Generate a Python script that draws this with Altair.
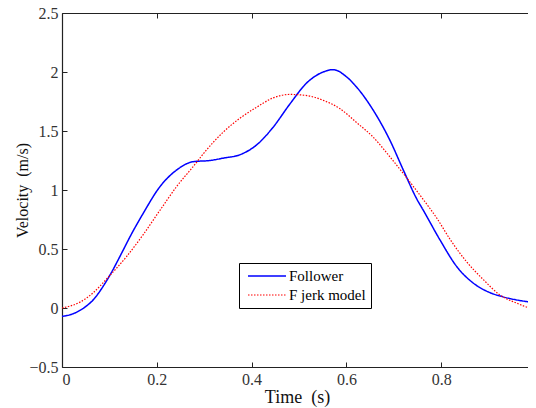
import altair as alt
import pandas as pd

# Follower (measured velocity)
follower_t = [0.000, 0.015, 0.038, 0.066, 0.097, 0.129, 0.143, 0.171, 0.207, 0.242, 0.277,
              0.312, 0.340, 0.376, 0.410, 0.445, 0.481, 0.517, 0.551, 0.572, 0.600, 0.622,
              0.656, 0.692, 0.720, 0.749, 0.762, 0.797, 0.833, 0.868, 0.903, 0.930, 0.987]
follower_v = [-0.07, -0.06, -0.02, 0.07, 0.25, 0.49, 0.60, 0.80, 1.03, 1.17, 1.24,
              1.25, 1.27, 1.30, 1.38, 1.53, 1.73, 1.91, 2.00, 2.02, 1.96, 1.87,
              1.68, 1.42, 1.17, 0.92, 0.83, 0.58, 0.35, 0.21, 0.13, 0.095, 0.05]

# F jerk model
model_t = [0.000, 0.038, 0.066, 0.095, 0.137, 0.171, 0.207, 0.242, 0.277, 0.305, 0.340,
           0.376, 0.410, 0.445, 0.481, 0.517, 0.551, 0.586, 0.622, 0.656, 0.692, 0.720,
           0.762, 0.791, 0.819, 0.854, 0.889, 0.924, 0.960, 0.987, 1.000]
model_v = [0.00, 0.05, 0.13, 0.25, 0.44, 0.62, 0.83, 1.03, 1.20, 1.34, 1.49,
           1.61, 1.70, 1.78, 1.81, 1.80, 1.76, 1.69, 1.57, 1.45, 1.28, 1.14,
           0.92, 0.76, 0.58, 0.39, 0.24, 0.11, 0.04, 0.00, -0.01]

series_names = ["Follower", "F jerk model"]
series_colors = ["#0000ff", "#ff0000"]
x_ticks = [0, 0.2, 0.4, 0.6, 0.8, 1]
y_ticks = [-0.5, 0, 0.5, 1, 1.5, 2, 2.5]

df = pd.concat([
    pd.DataFrame({"t": follower_t, "v": follower_v, "series": series_names[0], "order": range(len(follower_t))}),
    pd.DataFrame({"t": model_t, "v": model_v, "series": series_names[1], "order": range(len(model_t))}),
], ignore_index=True)

# The original plot area runs past the right edge of the picture (x = 1 sits on the edge);
# only the visible part (466 of 474 px) is drawn so the page does not overflow.
FULL_W = 474
W, H = 466, 354
FONT = "Liberation Serif, Times New Roman, Times, serif"
xs = alt.Scale(domain=[0, W / FULL_W], nice=False, zero=False)
ys = alt.Scale(domain=[-0.5, 2.5], nice=False, zero=False)

common = dict(labelFont=FONT, titleFont=FONT, domainColor="#222222", tickColor="#222222",
              grid=False)

base = alt.Chart(df)

main = base.mark_line(interpolate="monotone", clip=True).encode(
    x=alt.X("t:Q", scale=xs, axis=alt.Axis(
        orient="bottom", values=x_ticks, format="~g", ticks=False, tickSize=0,
        labelPadding=4, labelFontSize=16, labelColor="#333333",
        title="Time\u00a0\u00a0(s)", titleFontSize=18, titleFontWeight="normal",
        titleColor="#111111", titlePadding=1, titleX=235, domainWidth=1.2, **common)),
    y=alt.Y("v:Q", scale=ys, axis=alt.Axis(
        orient="left", values=y_ticks, format="~g", ticks=False, tickSize=0,
        labelPadding=4, labelFontSize=16, labelColor="#333333",
        title="Velocity\u00a0\u00a0(m/s)", titleFontSize=16, titleFontWeight="normal",
        titleColor="#111111", titleX=-40, titleBaseline="middle",
        domainWidth=1.2, **common)),
    color=alt.Color("series:N", scale=alt.Scale(domain=series_names, range=series_colors),
                    legend=alt.Legend(
                        title=None, orient="none", legendX=177, legendY=250,
                        symbolType="stroke", symbolSize=1444, symbolStrokeWidth=1.6,
                        clipHeight=16, rowPadding=3, padding=5, symbolOffset=3,
                        labelOffset=2, labelFont=FONT, labelFontSize=15, labelColor="#000000",
                        strokeColor="#000000", fillColor="#ffffff")),
    strokeDash=alt.StrokeDash("series:N", scale=alt.Scale(domain=series_names, range=[[1, 0], [1.5, 1.5]]),
                              legend=None),
    strokeWidth=alt.StrokeWidth("series:N", scale=alt.Scale(domain=series_names, range=[1.5, 1.2]),
                                legend=None),
    order="order:Q",
)

ticks_in_a = base.mark_line(opacity=0).encode(
    x=alt.X("t:Q", scale=xs, axis=alt.Axis(
        orient="top", offset=-H, values=x_ticks, labels=False, domain=False,
        ticks=True, tickSize=5, title=None, **common)),
    y=alt.Y("v:Q", scale=ys, axis=alt.Axis(
        orient="right", offset=-W, values=y_ticks, labels=False, domain=False,
        ticks=True, tickSize=5, title=None, **common)),
    detail="series:N",
)

ticks_in_b = base.mark_line(opacity=0).encode(
    x=alt.X("t:Q", scale=xs, axis=alt.Axis(
        orient="bottom", offset=-H, values=x_ticks, labels=False, domain=True,
        domainWidth=1.2, ticks=True, tickSize=5, title=None, **common)),
    y=alt.Y("v:Q", scale=ys, axis=alt.Axis(
        orient="left", offset=-FULL_W, values=y_ticks, labels=False, domain=False,
        ticks=True, tickSize=5, title=None, **common)),
    detail="series:N",
)

chart = alt.layer(main, ticks_in_a, ticks_in_b).resolve_axis(
    x="independent", y="independent"
).properties(
    width=W, height=H,
    autosize=alt.AutoSizeParams(type="none"),
    padding={"left": 54, "top": 5, "right": 0, "bottom": 41},
    background="#ffffff",
).configure(
    font=FONT
).configure_axis(
    labelFont=FONT, titleFont=FONT
).configure_legend(
    labelFont=FONT
).configure_view(stroke=None)

chart.save("out.html", embed_options={"renderer": "svg", "actions": False})
